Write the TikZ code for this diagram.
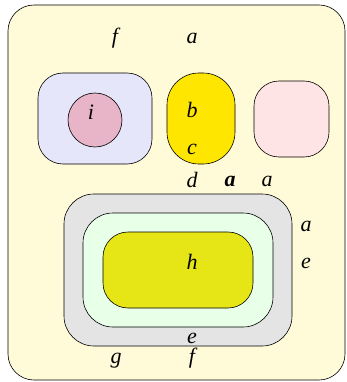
\documentclass[tikz,border=0pt]{standalone}
\usepackage{fontspec}
\setmainfont{Liberation Serif}
\begin{document}
\begin{tikzpicture}[x=1pt,y=-1pt,
  box/.style={draw=black, line width=0.6pt},
  lab/.style={font=\fontsize{22}{22}\selectfont\itshape, inner sep=0pt}]
\useasboundingbox (0,0) rectangle (346,382);
\definecolor{cream}{HTML}{FFFAD8}
\definecolor{lav}{HTML}{E6E6FA}
\definecolor{rosec}{HTML}{E8B4C8}
\definecolor{yel}{HTML}{FFE600}
\definecolor{pinkr}{HTML}{FFE4E6}
\definecolor{greyr}{HTML}{E4E4E4}
\definecolor{greenr}{HTML}{E8FFE8}
\definecolor{yelh}{HTML}{E6E617}
\filldraw[box, fill=cream, rounded corners=26pt] (8,5) rectangle (345,380);
\filldraw[box, fill=lav, rounded corners=25pt] (38,73) rectangle (152,164);
\node[box, circle, fill=rosec, minimum size=54pt, inner sep=0pt] (i) at (95,120) {};
\filldraw[box, fill=yel, rounded corners=32pt] (167,73) rectangle (235,164);
\filldraw[box, fill=pinkr, rounded corners=25pt] (254,81) rectangle (329,157);
\filldraw[box, fill=greyr, rounded corners=30pt] (64,194) rectangle (292,346);
\filldraw[box, fill=greenr, rounded corners=30pt] (83,213) rectangle (273,327);
\filldraw[box, fill=yelh, rounded corners=25pt] (103,232) rectangle (253,308);
\node[lab] (lf1) at (115,38) {f};
\node[lab] (la1) at (192,38) {a};
\node[lab] (li) at (91,112) {i};
\node[lab] (lb) at (192,110) {b};
\node[lab] (lc) at (192,149) {c};
\node[lab] (ld) at (192,180) {d};
\node[lab, font=\fontsize{22}{22}\selectfont\bfseries\itshape] (la2) at (230,181) {a};
\node[lab] (la3) at (267,181) {a};
\node[lab] (la4) at (306,226) {a};
\node[lab] (le1) at (306,263) {e};
\node[lab] (lh) at (192,262) {h};
\node[lab] (le2) at (192,338) {e};
\node[lab] (lf2) at (192,358) {f};
\node[lab] (lg) at (116,361) {g};
\end{tikzpicture}
\end{document}
